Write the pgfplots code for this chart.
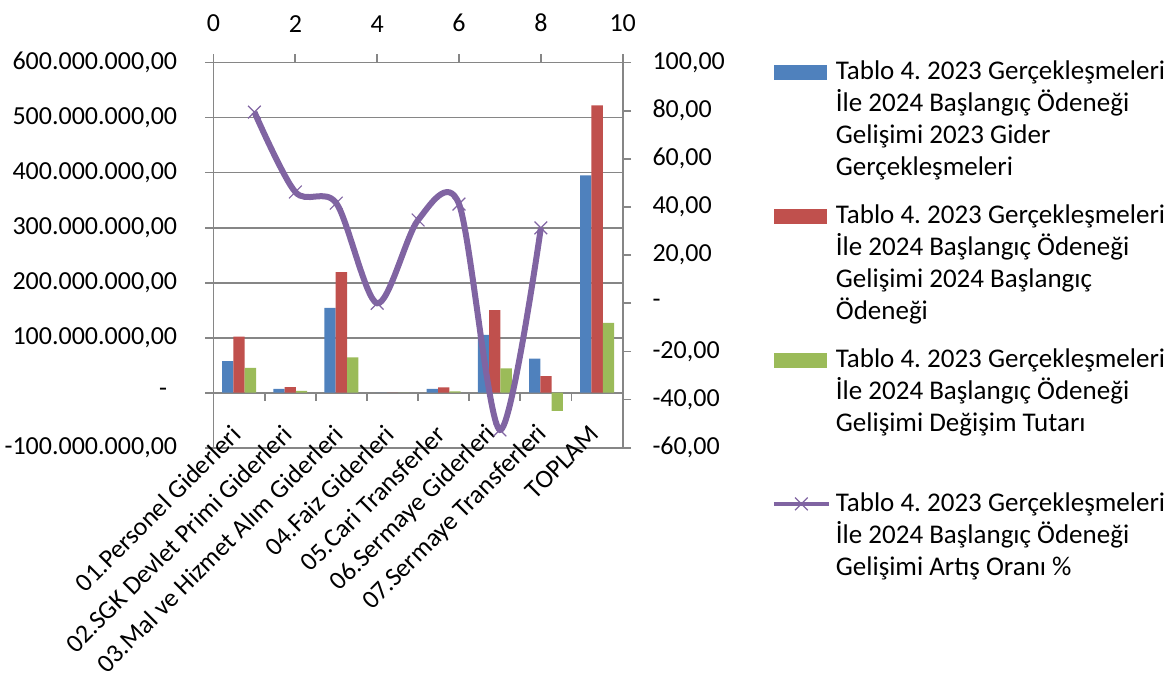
\documentclass[border=0pt]{standalone}
\usepackage{fontspec}
\setmainfont{Carlito}
\usepackage{pgfplots}
\pgfplotsset{compat=1.18}
\definecolor{xblue}{HTML}{4F81BD}
\definecolor{xred}{HTML}{C0504D}
\definecolor{xgreen}{HTML}{9BBB59}
\definecolor{xpurple}{HTML}{8064A2}
\definecolor{xgray}{HTML}{868686}
\newcommand{\lfont}{\fontsize{13}{15.9}\selectfont}
\newcommand{\legfont}{\fontsize{13.5}{16}\selectfont}
\newcommand{\legtab}[1]{{\setbox\strutbox\hbox{\vrule height 11.2pt depth 4.8pt width 0pt}\def\arraystretch{1}\begin{tabular}[t]{@{}l@{}}#1\end{tabular}}}
\frenchspacing
\pgfplotsset{
  purplelegend/.style={legend image code/.code={\draw[##1, line width=2pt, mark repeat=2, mark phase=2] plot coordinates {(0pt,4pt) (13.75pt,4pt) (27.5pt,4pt)};}},
  common/.style={
    at={(106.75pt,114.65pt)}, anchor=south west,
    scale only axis, width=204.6pt, height=192.6pt,
    font=\lfont,
    axis line style={xgray, line width=0.9pt},
    major tick length=4.2pt, tick align=outside,
    every tick/.style={xgray, line width=0.9pt},
  }
}
\begin{document}
\begin{tikzpicture}
\useasboundingbox (0,0) rectangle (583pt,338.5pt);
\begin{axis}[common,
  ybar=0pt, bar width=5.65pt,
  xmin=0.5, xmax=8.5, ymin=-100000000, ymax=600000000,
  axis x line*=bottom, axis y line*=left,
  ytick={-100000000,0,100000000,200000000,300000000,400000000,500000000,600000000},
  yticklabels={{-100.000.000,00},{-\hspace*{5pt}},{100.000.000,00},{200.000.000,00},{300.000.000,00},{400.000.000,00},{500.000.000,00},{600.000.000,00}},
  scaled y ticks=false,
  yticklabel style={inner sep=0pt, xshift=-13.8pt},
  ymajorgrids, grid style={xgray, line width=0.9pt},
  xtick={1,2,3,4,5,6,7,8},
  xticklabels={01.Personel Giderleri,02.SGK Devlet Primi Giderleri,03.Mal ve Hizmet Alım Giderleri,04.Faiz Giderleri,05.Cari Transferler,06.Sermaye Giderleri,07.Sermaye Transferleri,TOPLAM},
  x tick style={draw=none},
  xticklabel style={xshift=-1.3pt, yshift=13.1pt, rotate=45, anchor=east, inner sep=0pt},
]
\addplot[fill=xblue, draw=none] coordinates {(1,57500000) (2,7000000) (3,154000000) (4,0) (5,7000000) (6,105000000) (7,62000000) (8,395000000)};
\addplot[fill=xred, draw=none] coordinates {(1,102000000) (2,10200000) (3,219000000) (4,0) (5,9500000) (6,150000000) (7,30000000) (8,522000000)};
\addplot[fill=xgreen, draw=none] coordinates {(1,45000000) (2,3200000) (3,64000000) (4,0) (5,2400000) (6,44000000) (7,-33000000) (8,127000000)};
\draw[xgray, line width=0.9pt] (axis cs:1.5,0) -- (axis cs:1.5,-15600000);
\draw[xgray, line width=0.9pt] (axis cs:2.5,0) -- (axis cs:2.5,-15600000);
\draw[xgray, line width=0.9pt] (axis cs:3.5,0) -- (axis cs:3.5,-15600000);
\draw[xgray, line width=0.9pt] (axis cs:4.5,0) -- (axis cs:4.5,-15600000);
\draw[xgray, line width=0.9pt] (axis cs:5.5,0) -- (axis cs:5.5,-15600000);
\draw[xgray, line width=0.9pt] (axis cs:6.5,0) -- (axis cs:6.5,-15600000);
\draw[xgray, line width=0.9pt] (axis cs:7.5,0) -- (axis cs:7.5,-15600000);
\end{axis}
\begin{axis}[common,
  xmin=0, xmax=10, ymin=-60, ymax=100,
  axis x line*=top, axis y line*=right,
  xtick={0,2,4,6,8,10}, xticklabels={0,2,4,6,8,10},
  xticklabel style={inner sep=0pt, yshift=10.8pt},
  ytick={-60,-40,-20,0,20,40,60,80,100},
  yticklabels={{-60,00},{-40,00},{-20,00},{-},{20,00},{40,00},{60,00},{80,00},{100,00}},
  yticklabel style={inner sep=0pt, xshift=10.5pt},
  legend style={at={(1,1)}, anchor=north west, xshift=74.6pt, yshift=2.8pt,
    draw=none, fill=none, inner sep=0pt, outer sep=0pt,
    row sep={72.1pt,between origins}, column sep=2.5pt, font=\legfont,
    nodes={inner sep=0pt},
    cells={anchor=base west, inner sep=0pt}},
]
\addlegendimage{legend image code/.code={\fill[xblue] (0pt,0pt) rectangle (26pt,7pt);}}
\addlegendentry{\legtab{Tablo 4. 2023 Gerçekleşmeleri\\İle 2024 Başlangıç Ödeneği\\Gelişimi 2023 Gider\\Gerçekleşmeleri}}
\addlegendimage{legend image code/.code={\fill[xred] (0pt,0pt) rectangle (26pt,7pt);}}
\addlegendentry{\legtab{Tablo 4. 2023 Gerçekleşmeleri\\İle 2024 Başlangıç Ödeneği\\Gelişimi 2024 Başlangıç\\Ödeneği}}
\addlegendimage{legend image code/.code={\fill[xgreen] (0pt,0pt) rectangle (26pt,7pt);}}
\addlegendentry{\legtab{Tablo 4. 2023 Gerçekleşmeleri\\İle 2024 Başlangıç Ödeneği\\Gelişimi Değişim Tutarı}}
\addplot[xpurple, line width=3pt, smooth, mark=x, mark size=4.5pt,
  mark options={line width=0.6pt}, purplelegend]
  coordinates {(1,79.4) (2,46.2) (3,41.6) (4,0) (5,34.6) (6,41.2) (7,-52.6) (8,31.3)};
\addlegendentry{\legtab{Tablo 4. 2023 Gerçekleşmeleri\\İle 2024 Başlangıç Ödeneği\\Gelişimi Artış Oranı \%}}
\end{axis}
\end{tikzpicture}
\end{document}
